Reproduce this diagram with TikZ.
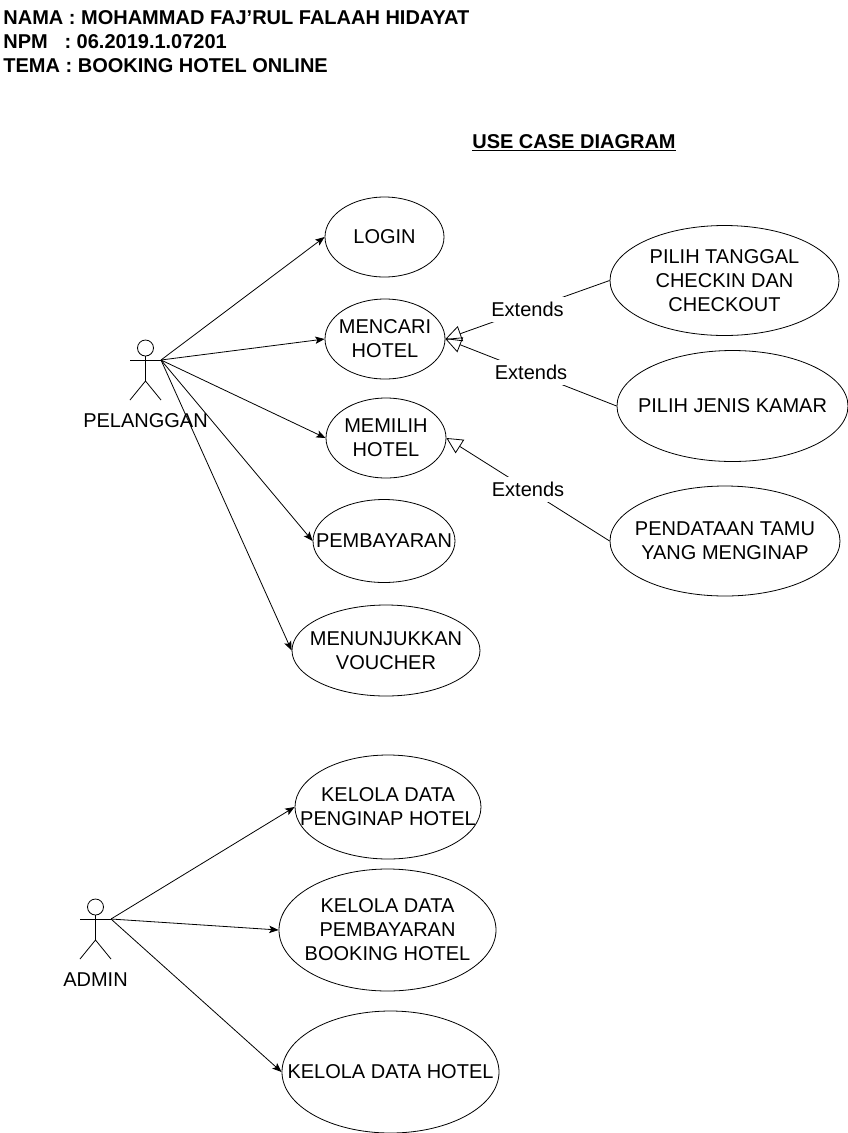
\documentclass[tikz,border=0pt]{standalone}
\usepackage{fontspec}
\setmainfont{Liberation Sans}
\usetikzlibrary{arrows.meta, shapes.geometric}

\tikzset{
	usecase/.style = {draw, ellipse, inner sep = -30 pt, align = center, font = \fontsize{15}{18}\selectfont},
	actorlabel/.style = {font = \fontsize{15}{18}\selectfont},
	extendslabel/.style = {fill = white, inner xsep = 1 pt, inner ysep = 4 pt, font = \fontsize{15}{18}\selectfont},
	extendsline/.style = {-{Triangle[open, length=12pt, width=12pt]}},
}

\begin{document}
\begin{tikzpicture}[> = {Stealth[length=7pt, width=5.5pt, inset=1.5pt]}, x = 0.75 pt, y = -0.75 pt, line width = 0.6 pt]

	\useasboundingbox (0, 0) rectangle (848, 1133);

	% Heading

	\node (heading) [anchor = north west, inner sep = 0 pt, align = left, font = \fontsize{15}{18}\selectfont\bfseries] at (3, 10)
		{NAMA : MOHAMMAD FAJ'RUL FALAAH HIDAYAT\\NPM\ \ \ : 06.2019.1.07201\\TEMA : BOOKING HOTEL ONLINE};
	\node (title) [font = \fontsize{15}{18}\selectfont\bfseries] at (574, 142.5) {\underline{USE CASE DIAGRAM}};

	% Actors

	\foreach \who/\cx/\cy/\name in {pelanggan/145.5/348/PELANGGAN, admin/95.5/907/ADMIN}{
		\begin{scope}[shift = {(\cx, \cy)}]
			\draw (0, 0) circle (6 pt);
			\draw (-15.5, 12) -- (15.5, 12);
			\draw (0, 8) -- (0, 33);
			\draw (-15.5, 52) -- (0, 33) -- (15.5, 52);
			\coordinate (\who) at (15.5, 12);
			\node (\who label) [actorlabel] at (0, 73) {\name};
		\end{scope}
	}

	% Use cases of the customer

	\node (login) [usecase, minimum width = 89.25 pt, minimum height = 60 pt] at (384.5, 237) {LOGIN};
	\node (mencari) [usecase, minimum width = 90 pt, minimum height = 60 pt] at (385, 339) {MENCARI\\HOTEL};
	\node (memilih) [usecase, minimum width = 90 pt, minimum height = 60 pt] at (386, 438) {MEMILIH\\HOTEL};
	\node (pembayaran) [usecase, minimum width = 106.5 pt, minimum height = 62.25 pt] at (384, 541) {PEMBAYARAN};
	\node (voucher) [usecase, minimum width = 141 pt, minimum height = 68.25 pt] at (386, 650.5) {MENUNJUKKAN\\VOUCHER};

	% Extensions

	\node (tanggal) [usecase, minimum width = 171.75 pt, minimum height = 82.5 pt] at (724.5, 280.5) {PILIH TANGGAL\\CHECKIN DAN\\CHECKOUT};
	\node (kamar) [usecase, minimum width = 173.25 pt, minimum height = 83.25 pt] at (732.5, 406) {PILIH JENIS KAMAR};
	\node (tamu) [usecase, minimum width = 172.5 pt, minimum height = 82.5 pt] at (725, 541) {PENDATAAN TAMU\\YANG MENGINAP};

	% Use cases of the admin

	\node (penginap) [usecase, minimum width = 139.5 pt, minimum height = 78 pt] at (388, 807) {KELOLA DATA\\PENGINAP HOTEL};
	\node (booking) [usecase, minimum width = 162.75 pt, minimum height = 91.5 pt] at (387.5, 930) {KELOLA DATA\\PEMBAYARAN\\BOOKING HOTEL};
	\node (hotel) [usecase, minimum width = 162.75 pt, minimum height = 91.5 pt] at (390.5, 1072) {KELOLA DATA HOTEL};

	% Connectors

	\draw [->] (pelanggan) -- (login.west);
	\draw [->] (pelanggan) -- (mencari.west);
	\draw [->] (pelanggan) -- (memilih.west);
	\draw [->] (pelanggan) -- (pembayaran.west);
	\draw [->] (pelanggan) -- (voucher.west);

	\draw [extendsline] (tanggal.west) -- node [extendslabel] {Extends} (mencari.east);
	\draw [extendsline] (kamar.west) -- node [extendslabel] {Extends} (mencari.east);
	\draw [extendsline] (tamu.west) -- node [extendslabel] {Extends} (memilih.east);

	\draw [->] (admin) -- (penginap.west);
	\draw [->] (admin) -- (booking.west);
	\draw [->] (admin) -- (hotel.west);

\end{tikzpicture}
\end{document}
